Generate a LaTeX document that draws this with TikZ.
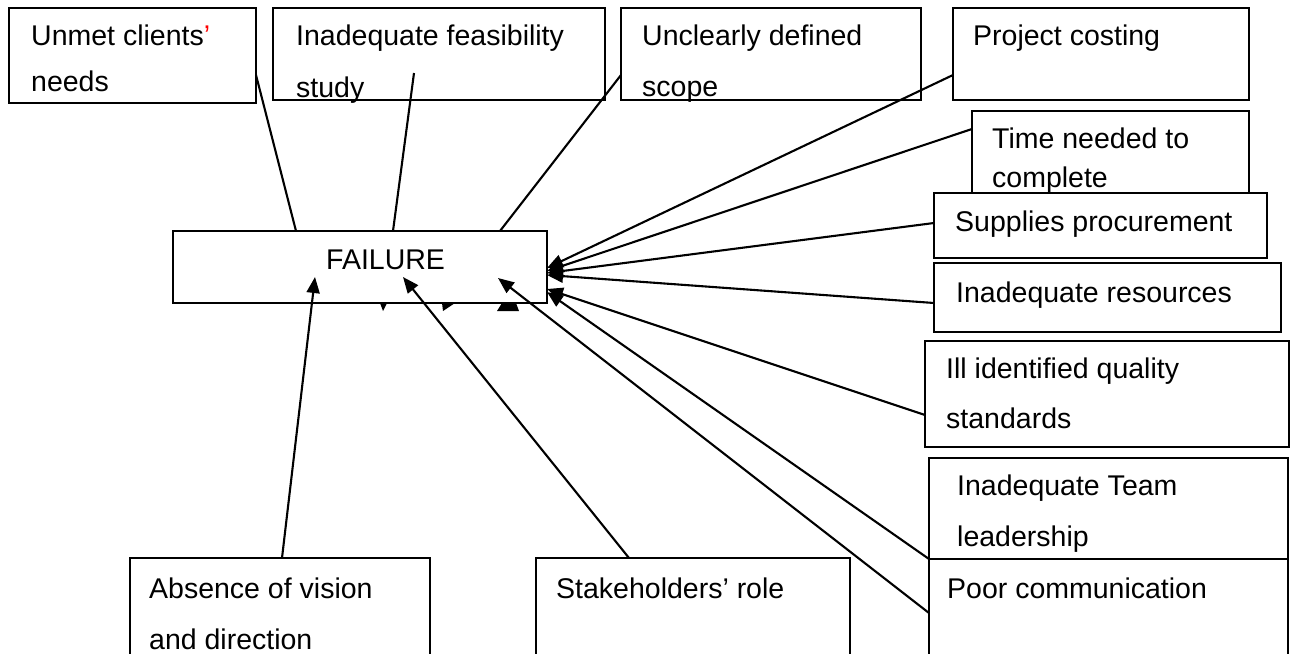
\documentclass[tikz,border=0pt]{standalone}
\usepackage{fontspec}
\setmainfont{Liberation Sans}
\usetikzlibrary{arrows.meta}
\begin{document}
\begin{tikzpicture}[x=1pt,y=-1pt,
  box/.style={draw=black, fill=white, line width=1.8pt, rectangle, anchor=north west, inner sep=0pt, outer sep=0pt},
  txt/.style={anchor=base west, inner sep=0pt, font=\fontsize{28.5}{34}\selectfont},
  link/.style={line width=2.1pt},
  arr/.style={line width=2.1pt, -{Triangle[length=16pt,width=13pt]}}]
\useasboundingbox (0,0) rectangle (1292,653);
\clip (0,0) rectangle (1292,653);
\fill[white] (0,0) rectangle (1292,653);

% central box
\node[box, minimum width=374pt, minimum height=72pt] (fail) at (173,231) {};
\node[txt] (tfail) at (326,269) {FAILURE};

% cause boxes along the top
\node[box, minimum width=247pt, minimum height=95pt] (b1) at (9,8) {};
\node[txt] (t1a) at (31,45) {Unmet clients\textcolor{red}{’}};
\node[txt] (t1b) at (31,91) {needs};

\node[box, minimum width=332pt, minimum height=92pt] (b2) at (273,8) {};
\node[txt] (t2a) at (296,45) {Inadequate feasibility};
\node[txt] (t2b) at (296,97) {study};

\node[box, minimum width=300pt, minimum height=92pt] (b3) at (621,8) {};
\node[txt] (t3a) at (642,45) {Unclearly defined};
\node[txt] (t3b) at (642,96) {scope};

\node[box, minimum width=296pt, minimum height=92pt] (b4) at (953,8) {};
\node[txt] (t4a) at (973,45) {Project costing};

% cause boxes down the right side
\node[box, minimum width=277pt, minimum height=85pt] (b5) at (972,111) {};
\node[txt] (t5a) at (992,148) {Time needed to};
\node[txt] (t5b) at (992,187) {complete};

\node[box, minimum width=333pt, minimum height=65pt] (b6) at (934,193) {};
\node[txt] (t6a) at (955,231) {Supplies procurement};

\node[box, minimum width=347pt, minimum height=69pt] (b7) at (934,263) {};
\node[txt] (t7a) at (956,302) {Inadequate resources};

\node[box, minimum width=364pt, minimum height=106pt] (b8) at (925,341) {};
\node[txt] (t8a) at (946,378) {Ill identified quality};
\node[txt] (t8b) at (946,428) {standards};

\node[box, minimum width=359pt, minimum height=101pt] (b9) at (929,458) {};
\node[txt] (t9a) at (957,495) {Inadequate Team};
\node[txt] (t9b) at (957,546) {leadership};

\node[box, minimum width=359pt, minimum height=141pt] (b10) at (929,559) {};
\node[txt] (t10a) at (947,598) {Poor communication};

% cause boxes along the bottom
\node[box, minimum width=300pt, minimum height=142pt] (b11) at (130,558) {};
\node[txt] (t11a) at (149,598) {Absence of vision};
\node[txt] (t11b) at (149,649) {and direction};

\node[box, minimum width=314pt, minimum height=142pt] (b12) at (536,558) {};
\node[txt] (t12a) at (556,598) {Stakeholders’ role};

% link ends inside boxes
\coordinate (s2) at (414,73);
\coordinate (p10) at (498,278);
\coordinate (p11) at (315,277);
\coordinate (p12) at (403,277);

% plain links from the top boxes
\draw[link] (b1.east |- 0,75) -- (fail.north -| 296,0);
\draw[link] (s2) -- (fail.north -| 393,0);
\draw[link] (b3.west |- 0,75) -- (fail.north -| 500,0);

% arrows into the failure box
\draw[arr] (b4.west |- 0,75) -- (fail.east |- 0,268);
\draw[arr] (b5.west |- 0,129) -- (fail.east |- 0,271);
\draw[arr] (b6.west |- 0,223) -- (fail.east |- 0,273);
\draw[arr] (b7.west |- 0,303) -- (fail.east |- 0,275);
\draw[arr] (b8.west |- 0,415) -- (fail.east |- 0,289);
\draw[arr] (b9.south west) -- (fail.east |- 0,292);
\draw[arr] (b10.west |- 0,613) -- (p10);
\draw[arr] (b11.north -| 282,0) -- (p11);
\draw[arr] (b12.north -| 629,0) -- (p12);

% small arrow-tip fragments below the failure box
\fill (380,303) -- (387,303) -- (383,311) -- cycle;
\fill (442,303) -- (455,303) -- (443,311) -- cycle;
\fill (502,303) -- (516,303) -- (519,311) -- (497,311) -- cycle;
\end{tikzpicture}
\end{document}
